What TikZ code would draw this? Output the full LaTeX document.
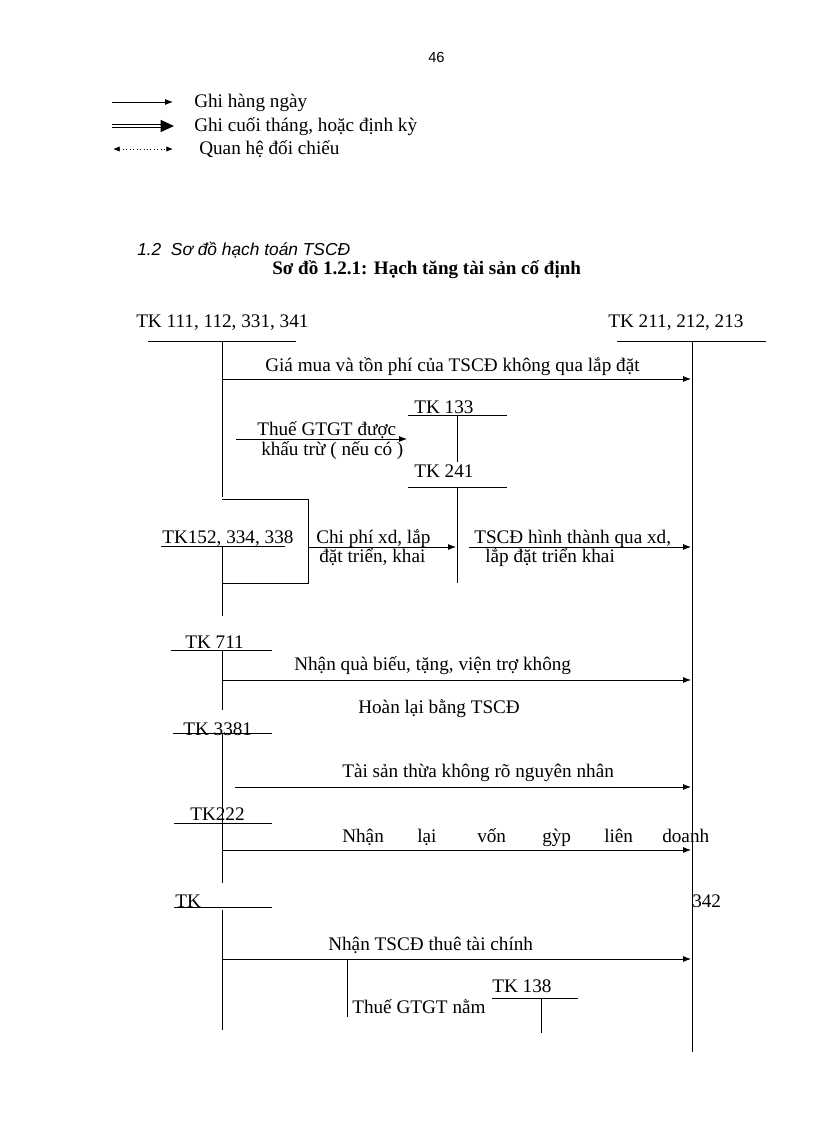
\documentclass[tikz,border=0pt]{standalone}
\usepackage{fontspec}
\setmainfont{Liberation Serif}
\newfontfamily\arialfont{Liberation Sans}
\usetikzlibrary{arrows.meta}

\tikzset{
  txt/.style={anchor=base west, inner sep=0pt, font=\fontsize{14.4}{16}\selectfont},
  acc/.style={line width=0.6pt},
  flow/.style={line width=0.6pt, -{Latex[length=6pt,width=4.5pt]}},
  dbl/.style={double, double distance=1.8pt, line width=0.8pt, -{Triangle[length=10pt,width=9pt]}},
  cmp/.style={dotted, line width=0.6pt, {Latex[length=5pt,width=4pt]}-{Latex[length=5pt,width=4pt]}},
}

\begin{document}
\begin{tikzpicture}[x=0.75pt,y=-0.75pt]
\useasboundingbox (0,0) rectangle (816,1123);
\node[anchor=base west, inner sep=0pt, font=\arialfont\fontsize{11}{13}\selectfont] (page) at (428,63) {46};

% chu thich
\coordinate (l1a) at (112,102); \coordinate (l1b) at (173,102);
\coordinate (l2a) at (112,126); \coordinate (l2b) at (174,126);
\coordinate (l3a) at (113,149); \coordinate (l3b) at (173,149);
\draw[flow] (l1a) -- (l1b);
\draw[dbl] (l2a) -- (l2b);
\draw[cmp] (l3a) -- (l3b);
\node[txt] (leg1) at (194,108) {Ghi hàng ngày};
\node[txt] (leg2) at (194,132) {Ghi cuối tháng, hoặc định kỳ};
\node[txt] (leg3) at (199,155) {Quan hệ đối chiếu};

% tieu de
\node[anchor=base west, inner sep=0pt, font=\arialfont\itshape\fontsize{13}{15}\selectfont] (sec) at (137,255) {1.2\ \ Sơ đồ hạch toán TSCĐ};
\node[txt, font=\bfseries\fontsize{14.3}{16}\selectfont] (title) at (272,274) {Sơ đồ 1.2.1: Hạch tăng tài sản cố định};

% cac tai khoan chu T: x1/x2/y/xv/yend
\foreach \xa/\xb/\y/\xv/\ye in {148/296/341/222/497, 617/766/341/692/1052,
    408/507/415/457/462, 408/507/487/457/583, 161/285/546/222/616,
    171/272/650/222/710, 173/272/733/222/883, 174/272/823/222/823,
    492/578/998/541/1033}
  \draw[acc] (\xa,\y) -- (\xb,\y) (\xv,\y) -- (\xv,\ye);
\draw[acc] (174,907) -- (272,907) (222,910) -- (222,1030);
\draw[acc] (222,499) -- (308,499) -- (308,583) -- (222,583);
\draw[acc] (347,959) -- (347,1017);

% ten tai khoan
\node[txt] (tk111) at (136,327) {TK 111, 112, 331, 341};
\node[txt] (tk211) at (608,327) {TK 211, 212, 213};
\node[txt] (tk133) at (414,413) {TK 133};
\node[txt] (tk241) at (414,477) {TK 241};
\node[txt] (tk152) at (162,543) {TK152, 334, 338};
\node[txt] (tk711) at (185,648) {TK 711};
\node[txt] (tk3381) at (183,735) {TK 3381};
\node[txt] (tk222) at (190,820) {TK222};
\node[txt] (tk342a) at (175,907) {TK};
\node[txt] (tk342b) at (692,907) {342};
\node[txt] (tk138) at (492,992) {TK 138};

% cac but toan
\coordinate (s1) at (222,379); \coordinate (e1) at (691,379);
\coordinate (s2) at (236,439); \coordinate (e2) at (407,439);
\coordinate (s3) at (308,547); \coordinate (e3) at (456,547);
\coordinate (s4) at (469,547); \coordinate (e4) at (691,547);
\coordinate (s5) at (222,680); \coordinate (e5) at (691,680);
\coordinate (s6) at (235,787); \coordinate (e6) at (691,787);
\coordinate (s7) at (222,850); \coordinate (e7) at (691,850);
\coordinate (s8) at (222,959); \coordinate (e8) at (691,959);
\foreach \k in {1,...,8} \draw[flow] (s\k) -- (e\k);

\node[txt] (t1) at (265,371) {Giá mua và tồn phí của TSCĐ không qua lắp đặt};
\node[txt] (t2a) at (257,435) {Thuế GTGT được};
\node[txt] (t2b) at (261,455) {khấu trừ ( nếu có )};
\node[txt] (t3a) at (316,543) {Chi phí xd, lắp};
\node[txt] (t3b) at (319,562) {đặt triển, khai};
\node[txt] (t4a) at (474,543) {TSCĐ hình thành qua xd,};
\node[txt] (t4b) at (485,562) {lắp đặt triển khai};
\node[txt] (t5a) at (294,670) {Nhận quà biếu, tặng, viện trợ không};
\node[txt] (t5b) at (358,713) {Hoàn lại bằng TSCĐ};
\node[txt] (t6) at (342,777) {Tài sản thừa không rõ nguyên nhân};
\foreach \x/\w [count=\i] in {342/Nhận, 417/lại, 477/vốn, 542/gỳp, 604/liên, 662/doanh}
  \node[txt] (t7w\i) at (\x,842) {\w};
\node[txt] (t8) at (328,950) {Nhận TSCĐ thuê tài chính};
\node[txt] (t9) at (352,1013) {Thuế GTGT nằm};
\end{tikzpicture}
\end{document}
